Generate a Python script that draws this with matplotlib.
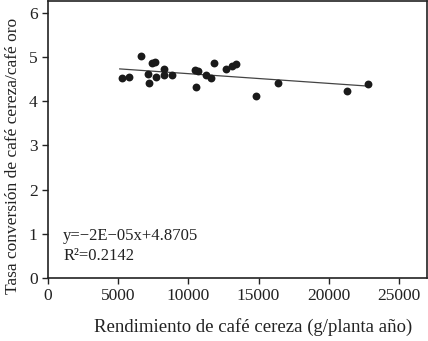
import numpy as np
import matplotlib
matplotlib.use("Agg")
import matplotlib.pyplot as plt

plt.rcParams['font.family'] = ['Liberation Serif', 'DejaVu Serif']

rendimiento = [5260, 5790, 6640, 7140, 7210, 7380, 7610, 7660, 8250, 8250, 8800,
               10440, 10660, 10510, 11280, 11580, 11800, 12700, 13130, 13410,
               14810, 16380, 21300, 22820]
tasa = [4.52, 4.55, 5.02, 4.62, 4.42, 4.86, 4.89, 4.55, 4.74, 4.59, 4.59,
        4.71, 4.68, 4.32, 4.59, 4.52, 4.86, 4.74, 4.79, 4.84,
        4.11, 4.42, 4.24, 4.38]
xticks = [0, 5000, 10000, 15000, 20000, 25000]
yticks = [0, 1, 2, 3, 4, 5, 6]
eq_text = "y=\u22122E\u221205x+4.8705"
r2_text = "R\u00b2=0.2142"

fig = plt.figure(figsize=(4.28, 3.41), dpi=100)
ax = fig.add_axes([48/428, 1 - 278/341, (427 - 48)/428, (278 - 1)/341])

x = np.array(rendimiento)
y = np.array(tasa)
slope, intercept = np.polyfit(x, y, 1)
xl = np.array([x.min() - 150, x.max()])
ax.plot(xl, slope * xl + intercept, color='#444444', lw=0.9, zorder=2)
ax.scatter(x, y, s=32, color='#1a1a1a', zorder=3, linewidths=0)

ax.set_xlim(0, 27000)
ax.set_ylim(0, 6.27)
ax.set_xticks(xticks)
ax.set_yticks(yticks)
ax.tick_params(direction='out', length=4, width=1, labelsize=12.5, colors='#222222')
for s in ax.spines.values():
    s.set_linewidth(1.2)
    s.set_color('#222222')

ax.set_xlabel("Rendimiento de café cereza (g/planta año)", fontsize=13.5, color='#222222')
ax.xaxis.set_label_coords(0.54, -0.145)
ax.set_ylabel("Tasa conversión de café cereza/café oro", fontsize=12.5, color='#222222')
ax.yaxis.set_label_coords(-0.07, 0.44)

ax.text(0.04, 0.15, eq_text, transform=ax.transAxes, fontsize=12, color='#222222', va='center')
ax.text(0.04, 0.078, r2_text, transform=ax.transAxes, fontsize=12, color='#222222', va='center')

fig.savefig("out.png", dpi=100)
